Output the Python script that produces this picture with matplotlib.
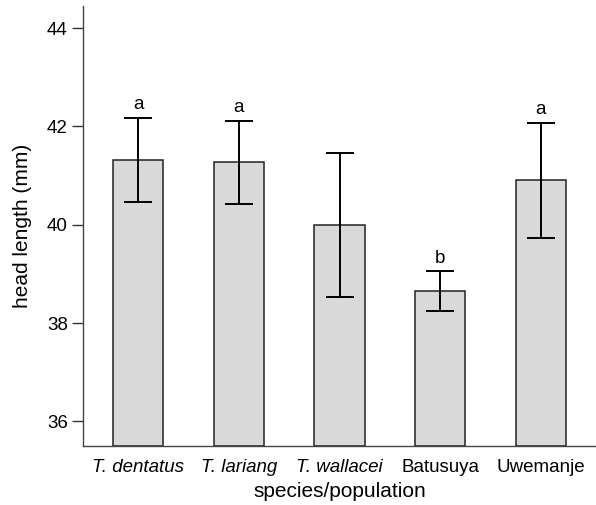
import matplotlib
matplotlib.use("Agg")
import matplotlib.pyplot as plt

plt.rcParams['font.family'] = ['Liberation Sans', 'DejaVu Sans']

categories = ["T. dentatus", "T. lariang", "T. wallacei", "Batusuya", "Uwemanje"]
italic = [True, True, True, False, False]
means = [41.32, 41.27, 40.00, 38.65, 40.91]
errors = [0.86, 0.85, 1.47, 0.41, 1.17]
letters = ["a", "a", "", "b", "a"]
yticks = [36, 38, 40, 42, 44]

fig = plt.figure(figsize=(5.96, 5.05), dpi=100)
ax = fig.add_axes([83/596, 59/505, 513/596, 440/505])

x = list(range(len(categories)))
ax.bar(x, [m - 35.5 for m in means], bottom=35.5, width=0.5,
       color='#d9d9d9', edgecolor='#222222', linewidth=1.1, zorder=2)
ax.errorbar(x, means, yerr=errors, fmt='none', ecolor='black',
            elinewidth=1.4, capsize=10, capthick=1.4, zorder=3)

for xi, m, e, lab in zip(x, means, errors, letters):
    if lab:
        ax.annotate(lab, (xi, m + e), xytext=(0, 6), textcoords='offset points',
                    ha='center', va='baseline', fontsize=13.5)

ax.set_xlim(-0.55, 4.55)
ax.set_ylim(35.5, 44.45)
ax.set_yticks(yticks)
ax.set_yticklabels([str(t) for t in yticks])
ax.set_xticks(x)
ax.set_xticklabels(categories)
for lbl, it in zip(ax.get_xticklabels(), italic):
    if it:
        lbl.set_style('italic')

ax.tick_params(axis='y', length=8, width=1.0, pad=3, labelsize=13.5, color='#333333')
ax.tick_params(axis='x', length=0, pad=9, labelsize=13.5)

for s in ['top', 'right']:
    ax.spines[s].set_visible(False)
for s in ['left', 'bottom']:
    ax.spines[s].set_color('#444444')
    ax.spines[s].set_linewidth(1.0)

ax.set_xlabel("species/population", fontsize=15, labelpad=5)
ax.set_ylabel("head length (mm)", fontsize=15, labelpad=11)

fig.savefig("out.png", dpi=100)
